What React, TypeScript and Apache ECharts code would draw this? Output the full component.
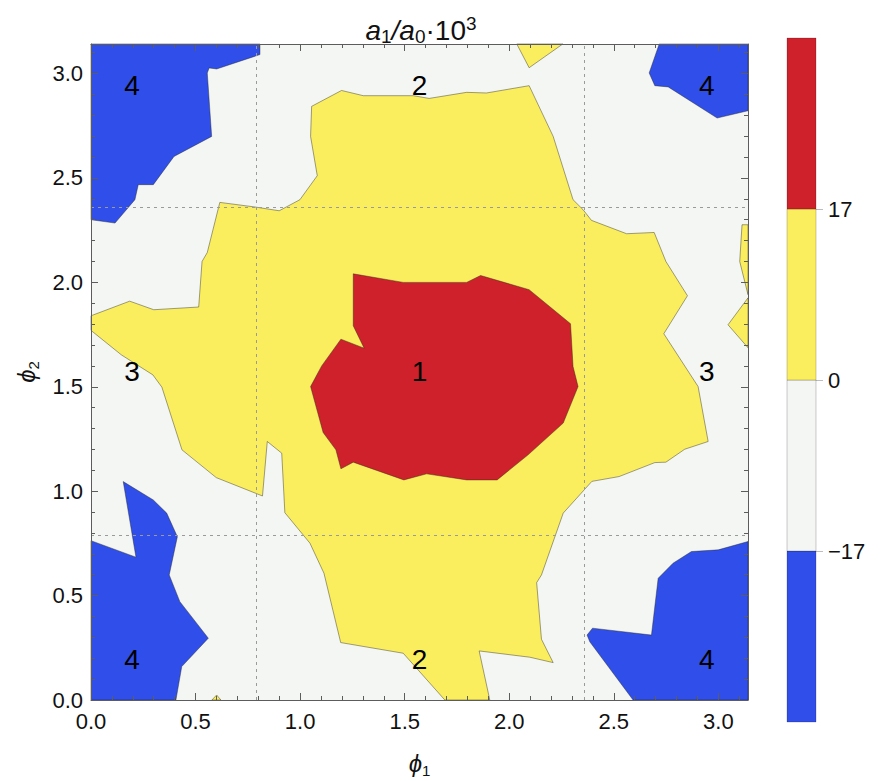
import { useEffect, useRef } from "react";
import * as echarts from "echarts";

type Pt = [number, number];

// Axis ranges and reference lines (radians)
const PHI_MAX = Math.PI;
const GUIDE_LINES = [Math.PI / 4, (3 * Math.PI) / 4];

// Contour levels of a1/a0·10^3 and the extent shown by the colour bar
const contourLevels = [-17, 0, 17];
const legendRange = [-34, 34];

// Band index: 0 below −17, 1 in [−17, 0], 2 in [0, 17], 3 above 17
const BAND_COLORS = ["#2f4eea", "#f4f6f3", "#fbee5e", "#cf212b"];

// Contour regions, vertices as [phi1, phi2]
const yellowMain: Pt[] = [
  [1.055, 2.843], [1.198, 2.919], [1.302, 2.894], [1.541, 2.894], [1.617, 2.881],
  [1.796, 2.91], [1.891, 2.907], [2.095, 2.942], [2.21, 2.699], [2.305, 2.396],
  [2.353, 2.348], [2.393, 2.297], [2.561, 2.233], [2.693, 2.239], [2.749, 2.1],
  [2.852, 1.936], [2.739, 1.754], [2.903, 1.501], [2.951, 1.238], [2.839, 1.201],
  [2.749, 1.139], [2.696, 1.137], [2.525, 1.07], [2.395, 1.047], [2.258, 0.895],
  [2.154, 0.599], [2.131, 0.562], [2.154, 0.291], [2.21, 0.179], [2.098, 0.205],
  [1.856, 0.235], [1.907, 0.0], [1.692, 0.0], [1.493, 0.224], [1.194, 0.275],
  [1.114, 0.607], [1.047, 0.751], [0.927, 0.897], [0.912, 1.182], [0.843, 1.238],
  [0.82, 0.977], [0.599, 1.065], [0.435, 1.198], [0.339, 1.498], [0.296, 1.557],
  [0.145, 1.653], [0.0, 1.77], [0.0, 1.84], [0.185, 1.91], [0.3, 1.869],
  [0.515, 1.882], [0.531, 2.1], [0.556, 2.143], [0.616, 2.383], [0.784, 2.361],
  [0.9, 2.343], [0.999, 2.396], [1.082, 2.511], [1.05, 2.699],
];
const yellowTop: Pt[] = [[2.036, 3.1416], [2.256, 3.1416], [2.095, 3.028]];
const yellowEdgeUpper: Pt[] = [[3.113, 2.276], [3.1416, 2.276], [3.1416, 1.941], [3.102, 2.1]];
const yellowEdgeLower: Pt[] = [[3.1416, 1.926], [3.046, 1.797], [3.1416, 1.687]];
const yellowSpeck: Pt[] = [[0.578, 0.0], [0.601, 0.024], [0.621, 0.0]];

const redCore: Pt[] = [
  [1.254, 2.041], [1.493, 2.0], [1.796, 2.0], [1.863, 2.033], [2.095, 1.965],
  [2.293, 1.802], [2.305, 1.597], [2.329, 1.501], [2.258, 1.326], [2.09, 1.174],
  [1.942, 1.054], [1.796, 1.054], [1.605, 1.083], [1.496, 1.054], [1.254, 1.139],
  [1.195, 1.107], [1.171, 1.198], [1.11, 1.281], [1.05, 1.501], [1.103, 1.6],
  [1.195, 1.728], [1.306, 1.685], [1.254, 1.792],
];

const blueTopLeft: Pt[] = [
  [0.0, 3.1416], [0.808, 3.1416], [0.808, 3.091], [0.601, 3.022], [0.565, 3.027],
  [0.556, 3.003], [0.577, 2.699], [0.397, 2.603], [0.298, 2.468], [0.226, 2.468],
  [0.21, 2.396], [0.115, 2.284], [0.0, 2.3],
];
const blueTopRight: Pt[] = [
  [2.717, 3.1416], [3.1416, 3.1416], [3.1416, 2.822], [2.994, 2.787], [2.76, 2.936],
  [2.696, 2.942], [2.669, 3.003],
];
const blueBottomLeft: Pt[] = [
  [0.0, 0.763], [0.215, 0.684], [0.154, 1.046], [0.298, 0.958], [0.362, 0.895],
  [0.413, 0.782], [0.374, 0.599], [0.425, 0.471], [0.561, 0.296], [0.434, 0.16],
  [0.406, 0.0], [0.0, 0.0],
];
const blueBottomRight: Pt[] = [
  [3.1416, 0.759], [2.999, 0.719], [2.871, 0.711], [2.783, 0.655], [2.712, 0.583],
  [2.68, 0.311], [2.398, 0.344], [2.372, 0.311], [2.385, 0.279], [2.592, 0.0],
  [3.1416, 0.0],
];

// Drawing order: yellow, then red, then blue on top of the light background
const fillLayers: { band: number; poly: Pt[] }[] = [
  { band: 2, poly: yellowMain },
  { band: 2, poly: yellowTop },
  { band: 2, poly: yellowEdgeUpper },
  { band: 2, poly: yellowEdgeLower },
  { band: 2, poly: yellowSpeck },
  { band: 3, poly: redCore },
  { band: 0, poly: blueTopLeft },
  { band: 0, poly: blueTopRight },
  { band: 0, poly: blueBottomLeft },
  { band: 0, poly: blueBottomRight },
];

// Region numbers
const regionNames = ["1", "2", "2", "3", "3", "4", "4", "4", "4"];
const regionPhi1 = [1.571, 1.571, 1.571, 0.196, 2.945, 0.196, 2.945, 0.196, 2.945];
const regionPhi2 = [1.571, 2.945, 0.196, 1.571, 1.571, 2.945, 2.945, 0.196, 0.196];

const FONT = "'Liberation Sans', Arial, Helvetica, sans-serif";
const FRAME = "#5c5c5c";
const TEXT = "#111111";

const bandEdges = [legendRange[0], ...contourLevels, legendRange[1]];

function fmtLevel(v: number): string {
  return v < 0 ? "\u2212" + Math.abs(v) : String(v);
}

const nameRich = {
  i: { fontFamily: FONT, fontStyle: "italic", fontSize: 24, lineHeight: 30, color: TEXT },
  s: { fontFamily: FONT, fontSize: 15, lineHeight: 15, verticalAlign: "bottom", color: TEXT },
};

function frameAxis(extra: any) {
  return {
    type: "value",
    gridIndex: 0,
    min: 0,
    max: PHI_MAX,
    z: 10,
    splitLine: { show: false },
    ...extra,
  };
}

const majorTick = { show: true, inside: true, length: 7, lineStyle: { color: FRAME, width: 1 } };
const minorTick = { show: true, inside: true, length: 4, lineStyle: { color: FRAME, width: 1 } };
const frameLine = { show: true, onZero: false, lineStyle: { color: FRAME, width: 1 } };
const noLine = { show: false, onZero: false };
const tickLabel = {
  show: true,
  fontSize: 22,
  fontFamily: FONT,
  color: TEXT,
  showMaxLabel: false,
  formatter: (v: number) => v.toFixed(1),
};

export default function App() {
  const ref = useRef<HTMLDivElement | null>(null);

  useEffect(() => {
    if (!ref.current) return;
    const chart = echarts.init(ref.current, null, { renderer: "svg" });

    const option: any = {
      animation: false,
      backgroundColor: "#ffffff",
      grid: [
        {
          left: 91,
          top: 44,
          width: 657,
          height: 656,
          show: true,
          backgroundColor: BAND_COLORS[1],
          borderWidth: 0,
          outerBoundsMode: "none",
          containLabel: false,
        },
        { left: 787, top: 38, width: 29, height: 684, show: false, outerBoundsMode: "none", containLabel: false },
      ],
      xAxis: [
        frameAxis({
          position: "bottom",
          interval: 0.5,
          axisLine: frameLine,
          axisTick: majorTick,
          axisLabel: { ...tickLabel, margin: 10 },
          name: "{i|\u03d5}{s|1}",
          nameLocation: "middle",
          nameGap: 48,
          nameTextStyle: { rich: nameRich },
        }),
        frameAxis({ position: "bottom", interval: 0.1, axisLine: noLine, axisTick: minorTick, axisLabel: { show: false } }),
        frameAxis({ position: "top", interval: 0.5, axisLine: frameLine, axisTick: majorTick, axisLabel: { show: false } }),
        frameAxis({ position: "top", interval: 0.1, axisLine: noLine, axisTick: minorTick, axisLabel: { show: false } }),
        { type: "value", gridIndex: 1, min: 0, max: 1, show: false },
      ],
      yAxis: [
        frameAxis({
          position: "left",
          interval: 0.5,
          axisLine: frameLine,
          axisTick: majorTick,
          axisLabel: { ...tickLabel, margin: 8 },
          name: "{i|\u03d5}{s|2}",
          nameLocation: "middle",
          nameGap: 50,
          nameTextStyle: { rich: nameRich },
        }),
        frameAxis({ position: "left", interval: 0.1, axisLine: noLine, axisTick: minorTick, axisLabel: { show: false } }),
        frameAxis({ position: "right", interval: 0.5, axisLine: frameLine, axisTick: majorTick, axisLabel: { show: false } }),
        frameAxis({ position: "right", interval: 0.1, axisLine: noLine, axisTick: minorTick, axisLabel: { show: false } }),
        {
          type: "value",
          gridIndex: 1,
          min: legendRange[0],
          max: legendRange[1],
          position: "right",
          splitLine: { show: false },
          axisLine: { show: false, onZero: false },
          axisTick: { show: true, length: 7, customValues: contourLevels, lineStyle: { color: "#bdbdbd" } },
          axisLabel: {
            show: true,
            customValues: contourLevels,
            margin: 12,
            fontSize: 22,
            fontFamily: FONT,
            color: TEXT,
            formatter: fmtLevel,
          },
        },
      ],
      graphic: [
        {
          type: "text",
          x: 421,
          y: 30,
          z: 20,
          style: {
            text: "{i|a}{s|1}{i|/a}{s|0}{n|\u00b710}{p|3}",
            align: "center",
            verticalAlign: "middle",
            rich: {
              i: { fontFamily: FONT, fontStyle: "italic", fontSize: 28, lineHeight: 32, fill: TEXT },
              n: { fontFamily: FONT, fontSize: 28, lineHeight: 32, fill: TEXT },
              s: { fontFamily: FONT, fontSize: 19, lineHeight: 16, verticalAlign: "bottom", fill: TEXT },
              p: { fontFamily: FONT, fontSize: 19, lineHeight: 16, verticalAlign: "top", fill: TEXT },
            },
          },
        },
      ],
      series: [
        {
          type: "custom",
          name: "contours",
          coordinateSystem: "cartesian2d",
          xAxisIndex: 0,
          yAxisIndex: 0,
          silent: true,
          z: 2,
          data: fillLayers.map((l) => l.poly[0]),
          renderItem: (params: any, api: any) => {
            const layer = fillLayers[params.dataIndex];
            const points = layer.poly.map((p) => api.coord(p));
            return {
              type: "polygon",
              shape: { points },
              style: {
                fill: BAND_COLORS[layer.band],
                stroke: "rgba(40,40,30,0.55)",
                lineWidth: 0.8,
              },
            };
          },
        },
        {
          type: "line",
          name: "guides",
          xAxisIndex: 0,
          yAxisIndex: 0,
          data: [],
          z: 5,
          silent: true,
          markLine: {
            silent: true,
            symbol: ["none", "none"],
            label: { show: false },
            lineStyle: { type: [3, 4], color: "#9a9a9a", width: 1 },
            data: [
              ...GUIDE_LINES.map((v) => ({ xAxis: v })),
              ...GUIDE_LINES.map((v) => ({ yAxis: v })),
            ],
          },
        },
        {
          type: "custom",
          name: "labels",
          coordinateSystem: "cartesian2d",
          xAxisIndex: 0,
          yAxisIndex: 0,
          silent: true,
          z: 6,
          data: regionNames.map((_, i) => [regionPhi1[i], regionPhi2[i]]),
          renderItem: (params: any, api: any) => {
            const p = api.coord([api.value(0), api.value(1)]);
            return {
              type: "text",
              x: p[0],
              y: p[1],
              style: {
                text: regionNames[params.dataIndex],
                fontSize: 28,
                fontFamily: FONT,
                fill: "#000000",
                align: "center",
                verticalAlign: "middle",
              },
            };
          },
        },
        {
          type: "custom",
          name: "legend",
          coordinateSystem: "cartesian2d",
          xAxisIndex: 4,
          yAxisIndex: 4,
          silent: true,
          data: BAND_COLORS.map((_, i) => [0, bandEdges[i]]),
          renderItem: (params: any, api: any) => {
            const i = params.dataIndex;
            const tl = api.coord([0, bandEdges[i + 1]]);
            const br = api.coord([1, bandEdges[i]]);
            return {
              type: "rect",
              shape: { x: tl[0], y: tl[1], width: br[0] - tl[0], height: br[1] - tl[1] },
              style: { fill: BAND_COLORS[i], stroke: "rgba(0,0,0,0.2)", lineWidth: 1 },
            };
          },
        },
      ],
    };

    chart.setOption(option);
    return () => chart.dispose();
  }, []);

  return (
    <div
      ref={ref}
      style={{ position: "fixed", left: 0, top: 0, width: 880, height: 781, background: "#ffffff" }}
    />
  );
}
